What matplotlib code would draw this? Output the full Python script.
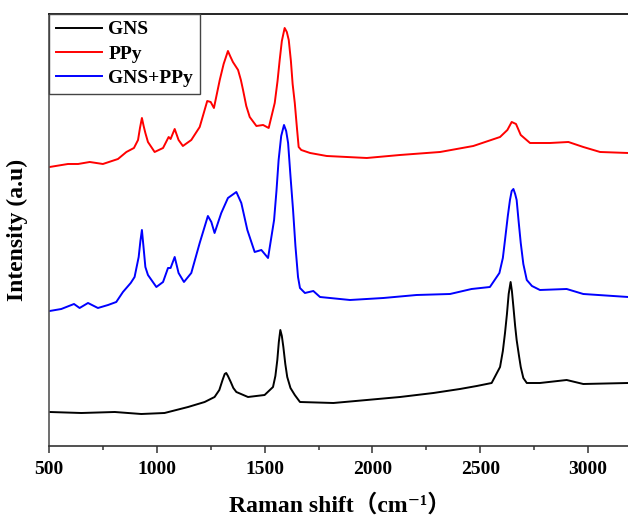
import matplotlib
matplotlib.use("Agg")
import matplotlib.pyplot as plt
from matplotlib.ticker import MultipleLocator

# Raman spectra (wavenumber in cm-1, intensity in a.u.)
ppy_x = [503, 588, 635, 689, 750, 820, 859, 894, 913, 922, 931, 939, 947, 959, 990,
         1029, 1055, 1064, 1083, 1101, 1121, 1160, 1199, 1234, 1250, 1265, 1292, 1310,
         1330, 1340, 1353, 1365, 1377, 1390, 1400, 1415, 1431, 1462, 1493, 1519, 1547,
         1560, 1570, 1580, 1593, 1603, 1612, 1622, 1630, 1640, 1650, 1658, 1670, 1711,
         1788, 1974, 2128, 2314, 2468, 2592, 2626, 2646, 2666, 2688, 2731, 2824, 2909,
         2978, 3056, 3186]
ppy_y = [279, 282, 282, 284, 282, 287, 294, 298, 306, 318, 328, 320, 313, 304, 294,
         298, 309, 307, 317, 306, 300, 306, 319, 345, 344, 338, 366, 382,
         395, 390, 384, 380, 376, 366, 356, 340, 329, 320, 321, 318, 343,
         365, 386, 405, 418, 414, 406, 385, 362, 343, 318, 299, 296, 293,
         290, 288, 291, 294, 300, 309, 316, 324, 322, 311, 303, 303, 304,
         299, 294, 293]

mix_x = [503, 557, 616, 642, 681, 727, 774, 812, 843, 879, 897, 916, 924, 931, 938,
         947, 959, 998, 1029, 1052, 1064, 1083, 1101, 1126, 1160, 1199, 1237, 1253,
         1268, 1299, 1330, 1369, 1392, 1420, 1454, 1485, 1516, 1544, 1555, 1565, 1577,
         1590, 1600, 1609, 1620, 1632, 1643, 1655, 1664, 1687, 1726, 1757, 1896, 2051,
         2205, 2360, 2460, 2545, 2589, 2605, 2615, 2628, 2638, 2646, 2654, 2662, 2669,
         2678, 2688, 2700, 2716, 2740, 2777, 2901, 2978, 3186]
mix_y = [135, 137, 142, 138, 143, 138, 141, 144, 154, 163, 169, 189, 205, 216, 200,
         179, 171, 159, 164, 178, 178, 189, 173, 164, 173, 203, 230, 224,
         213, 233, 248, 254, 243, 216, 194, 196, 188, 226, 255, 286, 310,
         321, 315, 303, 270, 236, 200, 169, 158, 153, 155, 149, 146, 148,
         151, 152, 157, 159, 173, 188, 206, 230, 246, 255, 257, 252, 246,
         225, 203, 182, 166, 160, 156, 157, 152, 149]

gns_x = [503, 650, 805, 928, 1036, 1145, 1222, 1268, 1290, 1305, 1315, 1322, 1330,
         1343, 1355, 1369, 1423, 1500, 1539, 1550, 1559, 1566, 1573, 1580, 1587, 1596,
         1605, 1620, 1640, 1664, 1819, 1974, 2128, 2283, 2406, 2484, 2553, 2592, 2605,
         2615, 2624, 2632, 2641, 2647, 2654, 2662, 2669, 2680, 2688, 2700, 2716, 2777,
         2901, 2978, 3186]
gns_y = [34, 33, 34, 32, 33, 39, 44, 49, 56, 66, 72, 73, 70,
         64, 58, 54, 49, 51, 59, 70, 86, 104, 116, 110, 99, 82,
         69, 58, 51, 44, 43, 46, 49, 53, 57, 60, 63, 79, 95,
         113, 132, 152, 164, 155, 139, 120, 106, 90, 79, 68, 63, 63,
         66, 62, 63]

labels = ["GNS", "PPy", "GNS+PPy"]

serif = ["Liberation Serif", "Noto Sans CJK SC", "DejaVu Serif"]
plt.rcParams["font.family"] = serif
plt.rcParams["font.weight"] = "bold"

fig = plt.figure(figsize=(6.28, 5.18), dpi=100)
ax = fig.add_axes([0.078, 0.139, 0.927, 0.834])

ax.plot(gns_x, gns_y, color="black", lw=1.4, label=labels[0])
ax.plot(ppy_x, ppy_y, color="#ff0000", lw=1.4, label=labels[1])
ax.plot(mix_x, mix_y, color="#0000ff", lw=1.4, label=labels[2])

ax.set_xlim(500, 3200)
ax.set_ylim(0, 432)
ax.xaxis.set_major_locator(MultipleLocator(500))
ax.xaxis.set_minor_locator(MultipleLocator(250))
ax.set_yticks([])
ax.tick_params(axis="x", which="major", direction="out", length=5, width=1.1,
               pad=6, labelsize=14, color="#333333")
ax.tick_params(axis="x", which="minor", direction="out", length=3, width=1.1,
               color="#333333")
for lab in ax.get_xticklabels():
    lab.set_fontweight("bold")

for side in ["top", "bottom", "left", "right"]:
    ax.spines[side].set_linewidth(1.2)
ax.spines["top"].set_color("black")
ax.spines["bottom"].set_color("#333333")
ax.spines["left"].set_color("#555555")

ax.set_xlabel("Raman shift（cm⁻¹）", fontsize=17, fontweight="bold", labelpad=11)
ax.set_ylabel("Intensity (a.u)", fontsize=17, fontweight="bold")
ax.yaxis.set_label_coords(-0.036, 0.5)

leg = ax.legend(loc="upper left", borderaxespad=0, fancybox=False,
                prop={"size": 14, "weight": "bold", "family": serif},
                handlelength=2.4, handletextpad=0.3, labelspacing=0.35,
                borderpad=0.35)
leg.get_frame().set_edgecolor("#444444")
leg.get_frame().set_linewidth(1.0)
leg.get_frame().set_alpha(1)

fig.savefig("out.png", dpi=100)
